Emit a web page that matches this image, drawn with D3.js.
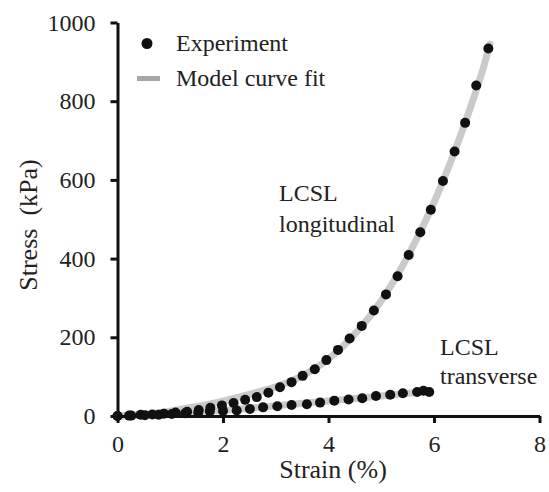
<!DOCTYPE html>
<html>
<head>
<meta charset="utf-8">
<script src="https://cdn.jsdelivr.net/npm/d3@7"></script>
<style>
  body { margin: 0; background: #fff; }
  svg text { font-family: "Liberation Serif", "Times New Roman", serif; fill: #222; }
</style>
</head>
<body>
<div id="chart"></div>
<script>
  // experiment points, longitudinal direction (strain %, stress kPa)
  var longStrain = [0, 0.22, 0.44, 0.66, 0.88, 1.10, 1.32, 1.54, 1.76, 1.98, 2.20, 2.42, 2.64, 2.86, 3.08, 3.30, 3.51, 3.74, 3.96, 4.18, 4.40, 4.63, 4.86, 5.09, 5.31, 5.52, 5.74, 5.94, 6.17, 6.39, 6.59, 6.80, 7.03];
  var longStress = [0, 1, 3, 4, 6, 9, 11, 15, 21, 27, 33, 41, 48, 59, 73, 86, 102, 119, 142, 168, 197, 229, 268, 309, 355, 409, 467, 524, 597, 672, 745, 840, 934];

  // experiment points, transverse direction
  var transStrain = [0, 0.26, 0.52, 0.78, 1.03, 1.28, 1.53, 1.75, 2.00, 2.26, 2.51, 2.76, 3.03, 3.30, 3.59, 3.84, 4.11, 4.38, 4.64, 4.90, 5.17, 5.41, 5.68, 5.80, 5.91];
  var transStress = [0, 1, 2, 3, 5, 7, 9, 12, 13, 14, 18, 22, 25, 28, 30, 34, 39, 42, 45, 51, 54, 58, 61, 64, 61];

  // model fit curves
  var fitLongStrain = [0, 0.5, 1, 1.5, 2, 2.5, 3, 3.5, 4, 4.5, 5, 5.5, 6, 6.5, 7, 7.06];
  var fitLongStress = [0, 4, 12, 24, 38, 55, 74, 102, 145, 208, 293, 405, 543, 712, 915, 945];
  var fitTransStrain = [0, 1, 2, 3, 4, 5, 5.9];
  var fitTransStress = [0, 6, 14, 26, 38, 51, 63];

  var xTicks = [0, 2, 4, 6, 8];
  var yTicks = [0, 200, 400, 600, 800, 1000];

  var width = 549, height = 492;
  var serif = '"Liberation Serif", "Times New Roman", Times, serif';

  var svg = d3.select('#chart').append('svg')
    .attr('width', width)
    .attr('height', height)
    .attr('font-family', serif);

  var x = d3.scaleLinear().domain([0, 8]).range([117.5, 539.5]);
  var y = d3.scaleLinear().domain([0, 1000]).range([416, 22.5]);

  function zip(a, b) {
    return a.map(function (v, i) { return [v, b[i]]; });
  }

  var line = d3.line()
    .x(function (d) { return x(d[0]); })
    .y(function (d) { return y(d[1]); })
    .curve(d3.curveMonotoneX);

  //----- fit curves
  [zip(fitLongStrain, fitLongStress), zip(fitTransStrain, fitTransStress)].forEach(function (pts) {
    svg.append('path')
      .datum(pts)
      .attr('d', line)
      .attr('fill', 'none')
      .attr('stroke', '#cacaca')
      .attr('stroke-width', 7)
      .attr('stroke-linecap', 'round');
  });

  //----- axes
  var xAxis = svg.append('g')
    .attr('transform', 'translate(0,' + y(0) + ')')
    .call(d3.axisBottom(x).tickValues(xTicks).tickFormat(d3.format('d'))
      .tickSize(7).tickSizeOuter(0).tickPadding(12));
  var yAxis = svg.append('g')
    .attr('transform', 'translate(' + x(0) + ',0)')
    .call(d3.axisLeft(y).tickValues(yTicks).tickFormat(d3.format('d'))
      .tickSize(7).tickSizeOuter(0).tickPadding(15));

  [xAxis, yAxis].forEach(function (g) {
    g.attr('font-family', serif).attr('font-size', 24);
    g.select('.domain').attr('stroke', '#111').attr('stroke-width', 3);
    g.selectAll('.tick line').attr('stroke', '#111').attr('stroke-width', 3);
    g.selectAll('.tick text').attr('fill', '#222');
  });

  //----- experiment points
  svg.append('g').selectAll('circle.long')
    .data(zip(longStrain, longStress)).enter()
    .append('circle')
    .attr('class', 'long')
    .attr('cx', function (d) { return x(d[0]); })
    .attr('cy', function (d) { return y(d[1]); })
    .attr('r', 5)
    .attr('fill', '#111');

  svg.append('g').selectAll('circle.trans')
    .data(zip(transStrain, transStress)).enter()
    .append('circle')
    .attr('class', 'trans')
    .attr('cx', function (d) { return x(d[0]); })
    .attr('cy', function (d) { return y(d[1]); })
    .attr('r', 5)
    .attr('fill', '#111');

  //----- axis titles
  svg.append('text')
    .attr('x', 333)
    .attr('y', 478)
    .attr('text-anchor', 'middle')
    .attr('font-size', 26)
    .text('Strain (%)');

  svg.append('text')
    .attr('transform', 'translate(37,225) rotate(-90)')
    .attr('text-anchor', 'middle')
    .attr('font-size', 26)
    .text('Stress\u00a0\u00a0(kPa)');

  //----- legend
  svg.append('circle')
    .attr('cx', 147).attr('cy', 43.5).attr('r', 5.5)
    .attr('fill', '#111');
  svg.append('text')
    .attr('x', 176).attr('y', 51)
    .attr('font-size', 24)
    .text('Experiment');
  svg.append('line')
    .attr('x1', 137).attr('x2', 160)
    .attr('y1', 78.5).attr('y2', 78.5)
    .attr('stroke', '#a6a6a6')
    .attr('stroke-width', 5);
  svg.append('text')
    .attr('x', 176).attr('y', 86)
    .attr('font-size', 24)
    .text('Model curve fit');

  //----- curve labels
  var labels = [
    { t: 'LCSL', x: 279, y: 201 },
    { t: 'longitudinal', x: 279, y: 232 },
    { t: 'LCSL', x: 440, y: 355 },
    { t: 'transverse', x: 440, y: 384 }
  ];
  svg.append('g').selectAll('text')
    .data(labels).enter()
    .append('text')
    .attr('x', function (d) { return d.x; })
    .attr('y', function (d) { return d.y; })
    .attr('font-size', 24)
    .text(function (d) { return d.t; });
</script>
</body>
</html>
